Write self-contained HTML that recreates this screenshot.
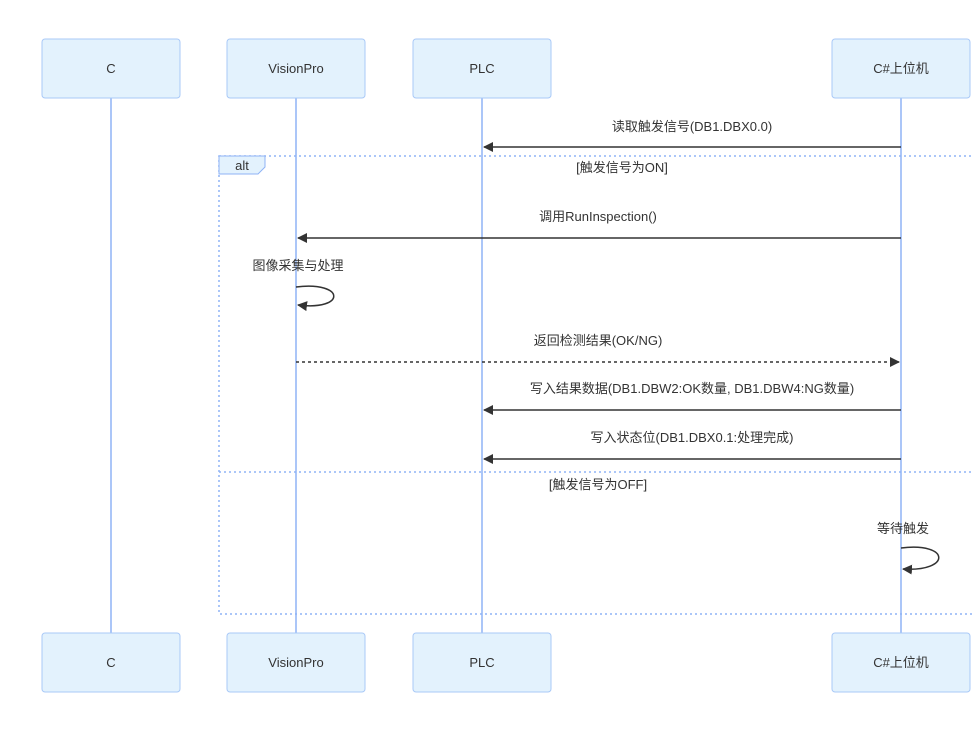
<!DOCTYPE html>
<html><head><meta charset="utf-8"><style>
body{margin:0;background:#fff}
text{font-family:"Liberation Sans","Noto Sans CJK SC",sans-serif;font-size:13px;fill:#333}
</style></head><body>
<svg width="974" height="729" xmlns="http://www.w3.org/2000/svg">
<defs>
<marker id="a" markerWidth="10" markerHeight="10" refX="9" refY="5" orient="auto" markerUnits="userSpaceOnUse"><path d="M0,0 L10,5 L0,10 z" fill="#333"/></marker>
</defs>
<g stroke="#8fb3f5" stroke-width="1.5">
<line x1="111" y1="98" x2="111" y2="633"/>
<line x1="296" y1="98" x2="296" y2="633"/>
<line x1="482" y1="98" x2="482" y2="633"/>
<line x1="901" y1="98" x2="901" y2="633"/>
</g>
<g fill="#e3f2fd" stroke="#a9c9f7" stroke-width="1">
<rect x="42" y="39" width="138" height="59" rx="3"/>
<rect x="227" y="39" width="138" height="59" rx="3"/>
<rect x="413" y="39" width="138" height="59" rx="3"/>
<rect x="832" y="39" width="138" height="59" rx="3"/>
<rect x="42" y="633" width="138" height="59" rx="3"/>
<rect x="227" y="633" width="138" height="59" rx="3"/>
<rect x="413" y="633" width="138" height="59" rx="3"/>
<rect x="832" y="633" width="138" height="59" rx="3"/>
</g>
<g text-anchor="middle">
<text x="111" y="73">C</text><text x="296" y="73">VisionPro</text><text x="482" y="73">PLC</text><text x="901" y="73">C#上位机</text>
<text x="111" y="667">C</text><text x="296" y="667">VisionPro</text><text x="482" y="667">PLC</text><text x="901" y="667">C#上位机</text>
</g>
<g fill="none" stroke="#8fb3f5" stroke-width="1.5" stroke-dasharray="2,3">
<rect x="219" y="156" width="760" height="458"/>
<line x1="219" y1="472" x2="974" y2="472"/>
</g>
<path d="M219,156 H265 V167 L258,174 H219 Z" fill="#e3f2fd" stroke="#8fb3f5" stroke-width="1"/>
<text x="242" y="170" text-anchor="middle">alt</text>
<g text-anchor="middle">
<text x="692" y="131">读取触发信号(DB1.DBX0.0)</text>
<text x="622" y="172">[触发信号为ON]</text>
<text x="598" y="221">调用RunInspection()</text>
<text x="298" y="270">图像采集与处理</text>
<text x="598" y="345">返回检测结果(OK/NG)</text>
<text x="692" y="393">写入结果数据(DB1.DBW2:OK数量, DB1.DBW4:NG数量)</text>
<text x="692" y="442">写入状态位(DB1.DBX0.1:处理完成)</text>
<text x="598" y="489">[触发信号为OFF]</text>
<text x="903" y="533">等待触发</text>
</g>
<g stroke="#333" stroke-width="1.5" fill="none">
<line x1="901" y1="147" x2="484" y2="147" marker-end="url(#a)"/>
<line x1="901" y1="238" x2="298" y2="238" marker-end="url(#a)"/>
<path d="M296,287 C346,281 346,311 298,305" marker-end="url(#a)"/>
<line x1="296" y1="362" x2="899" y2="362" stroke-dasharray="3,3" marker-end="url(#a)"/>
<line x1="901" y1="410" x2="484" y2="410" marker-end="url(#a)"/>
<line x1="901" y1="459" x2="484" y2="459" marker-end="url(#a)"/>
<path d="M901,548 C951,542 951,572 903,569" marker-end="url(#a)"/>
</g>
</svg>
</body></html>
